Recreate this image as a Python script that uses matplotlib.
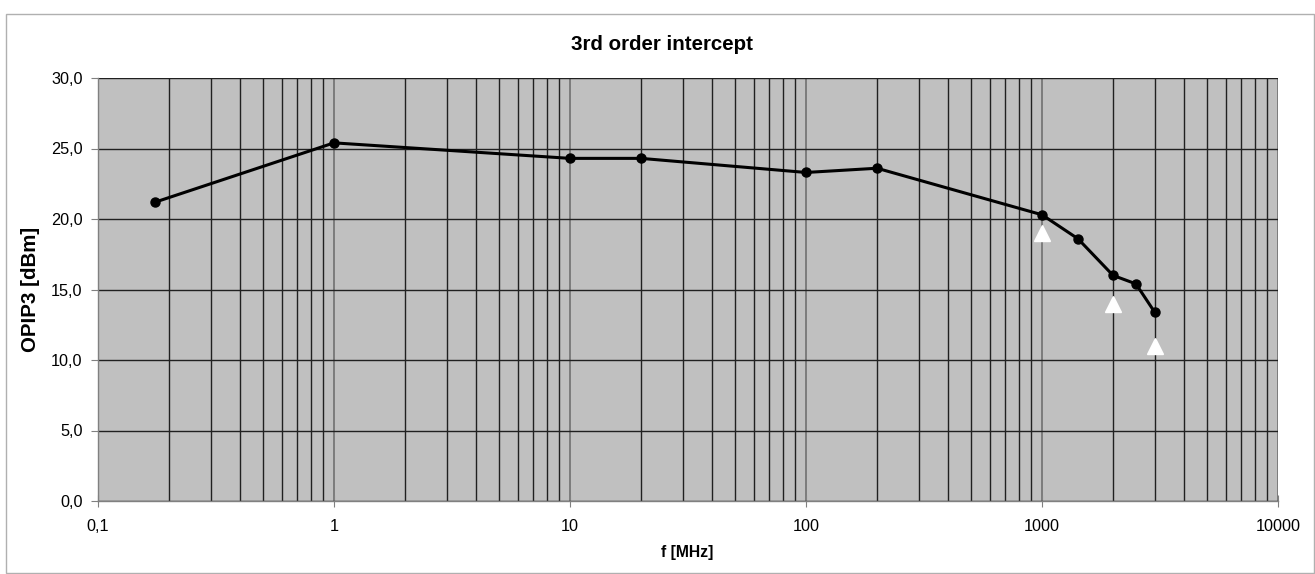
import matplotlib
matplotlib.use("Agg")
import matplotlib.pyplot as plt
from matplotlib.ticker import LogLocator, NullFormatter, FuncFormatter
from matplotlib.patches import Rectangle

plt.rcParams['font.family'] = ['Liberation Sans', 'DejaVu Sans']

freq = [0.175, 1, 10, 20, 100, 200, 1000, 1420, 2000, 2500, 3000]
opip3 = [21.2, 25.4, 24.3, 24.3, 23.3, 23.6, 20.3, 18.6, 16.0, 15.4, 13.4]
spec_freq = [1000, 2000, 3000]
spec_val = [19.0, 14.0, 11.0]
yticks = [0, 5, 10, 15, 20, 25, 30]
xticks = [0.1, 1, 10, 100, 1000, 10000]
xtick_labels = ["0,1", "1", "10", "100", "1000", "10000"]

W, H = 1315, 574
fig = plt.figure(figsize=(W / 100, H / 100), dpi=100)
fig.patches.append(Rectangle((6 / W, 1 / H), 1 - 7 / W, (573 - 14) / H,
                             transform=fig.transFigure, fill=False,
                             edgecolor='#b0b0b0', linewidth=1))
ax = fig.add_axes([98 / W, 1 - 501 / H, (1278 - 98) / W, (501 - 78) / H])
ax.set_facecolor('#c0c0c0')
ax.set_xscale('log')
ax.set_xlim(0.1, 10000)
ax.set_ylim(0, 30)

ax.xaxis.set_minor_locator(LogLocator(base=10, subs=range(2, 10), numticks=20))
ax.xaxis.set_minor_formatter(NullFormatter())
ax.set_xticks(xticks)
ax.set_xticklabels(xtick_labels)
ax.set_yticks(yticks)
ax.yaxis.set_major_formatter(FuncFormatter(lambda v, p: f"{v:.1f}".replace('.', ',')))
ax.grid(which='minor', axis='x', color='#202020', linewidth=1)
ax.grid(which='major', axis='x', color='#707070', linewidth=1.2)
ax.grid(which='major', axis='y', color='#202020', linewidth=1)
ax.set_axisbelow(True)

for s in ['top', 'right']:
    ax.spines[s].set_visible(False)
for s in ['left', 'bottom']:
    ax.spines[s].set_color('#808080')
    ax.spines[s].set_linewidth(1)
ax.tick_params(which='major', color='#808080', labelsize=11.7)
ax.tick_params(which='minor', length=0)
ax.tick_params(axis='x', direction='inout', length=8, pad=9)
ax.tick_params(axis='y', direction='out', length=5, pad=6)

ax.plot(freq, opip3, color='black', linewidth=2.2, marker='o', markersize=6.5,
        zorder=5, clip_on=False)
ax.plot(spec_freq, spec_val, linestyle='none', marker='^', markersize=12,
        color='white', markeredgecolor='white', zorder=6)

fig.text(662 / W, 1 - 44 / H, "3rd order intercept", fontsize=14.8,
         fontweight='bold', ha='center', va='center')
fig.text(687 / W, 1 - 553 / H, "f [MHz]", fontsize=11.3,
         fontweight='bold', ha='center', va='center')
fig.text(30 / W, 1 - 289 / H, "OPIP3 [dBm]", fontsize=14.8, fontweight='bold',
         ha='center', va='center', rotation=90)

fig.savefig("out.png", dpi=100)
